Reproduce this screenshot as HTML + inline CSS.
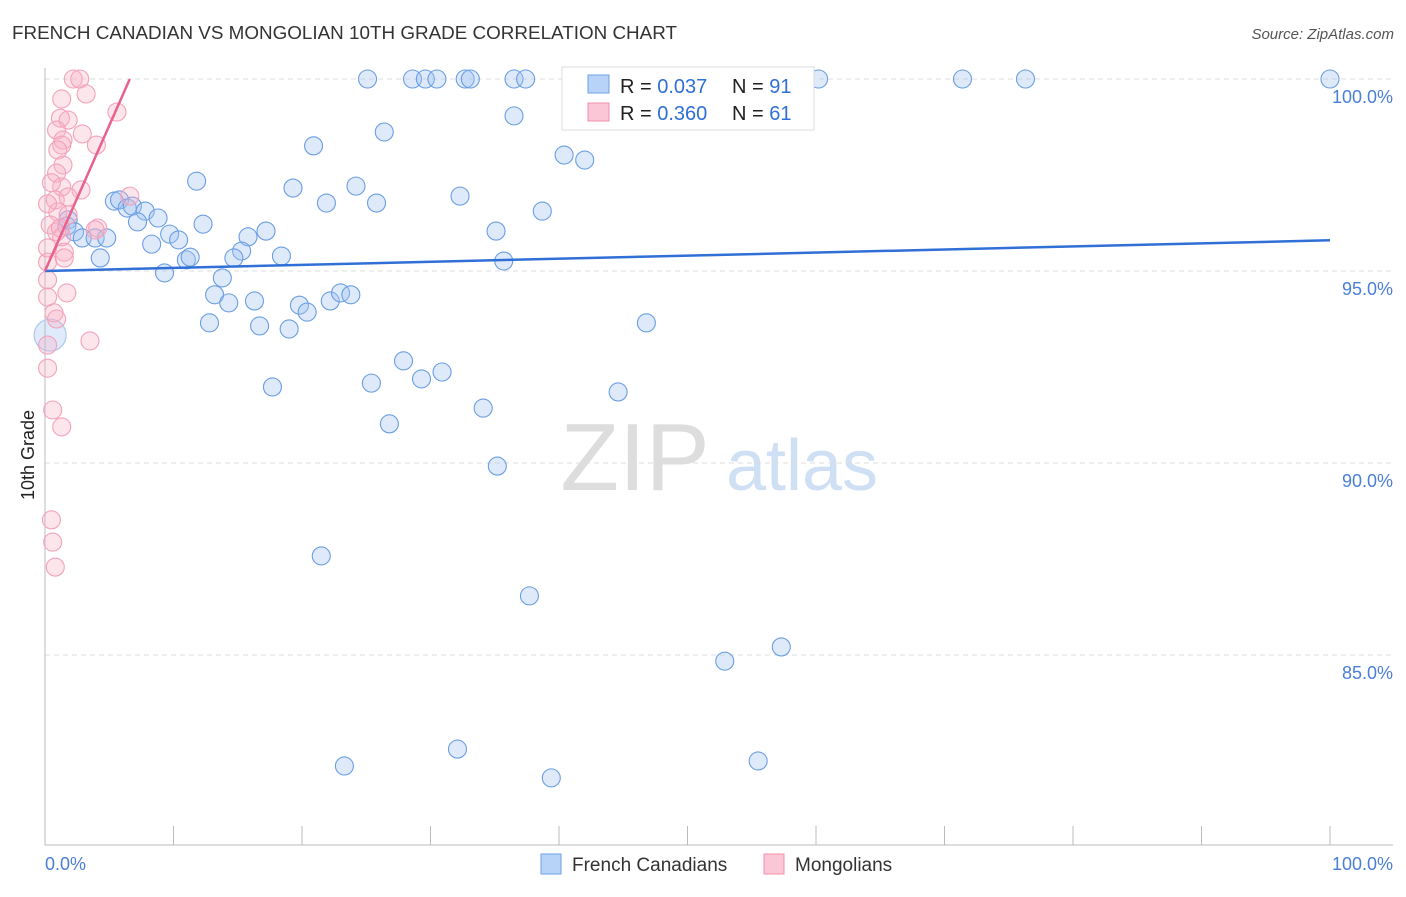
<!DOCTYPE html>
<html><head><meta charset="utf-8"><style>
body{margin:0;background:#fff;font-family:"Liberation Sans",sans-serif}
svg text{font-family:"Liberation Sans",sans-serif}
</style></head><body>
<svg width="1406" height="892" viewBox="0 0 1406 892" xmlns="http://www.w3.org/2000/svg">
<text x="12" y="39" font-size="18" fill="#333" textLength="665" lengthAdjust="spacingAndGlyphs">FRENCH CANADIAN VS MONGOLIAN 10TH GRADE CORRELATION CHART</text>
<text x="1394" y="39" font-size="15" fill="#555" text-anchor="end" font-style="italic">Source: ZipAtlas.com</text>
<g>
<text x="635" y="490" font-size="96" fill="#ddd" font-family="Liberation Serif" text-anchor="middle">ZIP</text>
<text x="802" y="490" font-size="72" fill="#cfe0f5" text-anchor="middle">atlas</text>
</g>
<g id="grid"></g>
<g id="axes"></g>
<g id="marks"></g>
<text transform="translate(34,455) rotate(-90)" font-size="18" fill="#222" text-anchor="middle">10th Grade</text>
<text x="45" y="870" font-size="18" fill="#4a7fd6">0.0%</text>
<text x="1393" y="870" font-size="18" fill="#4a7fd6" text-anchor="end">100.0%</text>
<g>
<rect x="562" y="67" width="252" height="63" fill="#fff" stroke="#ddd"/>
<rect x="588" y="75" width="21" height="18" fill="#b7d3f7" stroke="#6fa0e3"/>
<rect x="588" y="103" width="21" height="18" fill="#fbc6d5" stroke="#f090ad"/>
<text x="620" y="93" font-size="20" fill="#222">R = <tspan fill="#2f6fd6">0.037</tspan></text>
<text x="732" y="93" font-size="20" fill="#222">N = <tspan fill="#2f6fd6">91</tspan></text>
<text x="620" y="120" font-size="20" fill="#222">R = <tspan fill="#2f6fd6">0.360</tspan></text>
<text x="732" y="120" font-size="20" fill="#222">N = <tspan fill="#2f6fd6">61</tspan></text>
</g>
<g>
<rect x="541" y="854" width="20" height="20" fill="#b7d3f7" stroke="#6fa0e3"/>
<text x="572" y="871" font-size="19" fill="#333">French Canadians</text>
<rect x="764" y="854" width="20" height="20" fill="#fbc6d5" stroke="#f090ad"/>
<text x="795" y="871" font-size="19" fill="#333">Mongolians</text>
</g>
</svg>
<script>
const yTicks=[100,95,90,85];
const yTickLabels=["100.0%","95.0%","90.0%","85.0%"];
const blueX=[25.1,28.6,29.6,30.5,32.7,33.1,36.5,37.4,44.6,47.9,58.2,60.2,71.4,76.3,100,36.5,26.4,20.9,40.4,42.0,11.8,19.3,24.2,32.3,21.9,25.8,38.7,5.4,5.8,6.4,6.8,7.8,8.8,7.2,12.3,1.8,1.7,2.3,2.9,3.9,4.8,9.7,10.4,8.3,15.8,17.2,35.1,15.3,14.7,11.0,11.3,4.3,18.4,35.7,9.3,13.8,13.2,14.3,16.3,19.8,20.4,22.2,23.0,23.8,12.8,16.7,19.0,46.8,27.9,30.9,29.3,25.4,17.7,44.6,34.1,26.8,35.2,21.5,37.7,52.9,57.3,32.1,23.3,39.4,55.5,0.4];
const blueY=[100,100,100,100,100,100,100,100,100,100,100,100,100,100,100,99.04,98.62,98.26,98.02,97.89,97.34,97.16,97.21,96.95,96.77,96.77,96.56,96.82,96.85,96.64,96.69,96.56,96.38,96.28,96.22,96.33,96.17,96.02,95.86,95.86,95.86,95.96,95.81,95.70,95.89,96.04,96.04,95.52,95.34,95.29,95.36,95.34,95.39,95.26,94.95,94.82,94.38,94.17,94.22,94.11,93.93,94.22,94.43,94.38,93.65,93.57,93.49,93.65,92.66,92.37,92.19,92.08,91.98,91.85,91.43,91.02,89.92,87.58,86.54,84.84,85.21,82.55,82.11,81.80,82.24,93.33];
const pinkX=[2.2,2.7,3.2,1.3,5.6,1.2,1.8,0.9,2.9,1.4,4.0,1.3,1.0,1.4,0.9,1.3,2.8,0.8,6.6,1.0,1.8,0.4,0.9,1.3,4.1,1.5,0.2,0.2,0.2,1.7,0.7,0.9,3.5,0.2,0.2,0.6,1.3,0.5,0.6,0.8,1.8,1.2,0.2,3.9,1.5,0.2,0.5];
const pinkY=[100,100,99.61,99.48,99.14,98.98,98.93,98.67,98.57,98.41,98.28,98.28,98.15,97.76,97.55,97.19,97.11,96.85,96.95,96.54,96.46,96.20,96.02,95.89,96.12,95.49,95.23,94.77,94.32,94.43,93.91,93.75,93.18,93.07,92.47,91.38,90.94,88.52,87.94,87.29,96.93,96.12,95.60,96.07,95.34,96.75,97.3];
const blueTrend=[[0,95.0],[100,95.8]];
const pinkTrend=[[0,95.0],[6.6,100]];
const NS="http://www.w3.org/2000/svg";
const xs=v=>45+v*12.85;
const ys=v=>79+(100-v)*38.4;
function mk(tag,parent,attrs){const e=document.createElementNS(NS,tag);for(const k in attrs)e.setAttribute(k,attrs[k]);document.getElementById(parent).appendChild(e);return e;}
yTicks.forEach((t,i)=>{
  const l=mk('line','grid',{x1:45,x2:1393,y1:ys(t),y2:ys(t),stroke:'#ddd','stroke-dasharray':'5,4'});
  
  
  const tx=mk('text','grid',{x:1393,y:ys(t)+24,'font-size':18,fill:'#4a7fd6','text-anchor':'end'});
  tx.textContent=yTickLabels[i];
  
  
});
let a=mk('line','axes',{x1:45,x2:45,y1:68,y2:845,stroke:'#bbb'});


a=mk('line','axes',{x1:45,x2:1393,y1:845,y2:845,stroke:'#bbb'});


for(let k=0;k<=10;k++){const t=mk('line','axes',{x1:xs(k*10),x2:xs(k*10),y1:826,y2:845,stroke:'#bbb'});
  
  }
blueX.forEach((x,i)=>{const big=i===blueX.length-1;
  const c=mk('circle','marks',{cx:xs(x),cy:ys(blueY[i]),r:big?16:9,fill:big?'rgba(150,190,240,0.3)':'rgba(160,196,240,0.35)',stroke:big?'#a9c6ee':'#6a9ee3','stroke-width':1.1});
  
  });
pinkX.forEach((x,i)=>{
  const c=mk('circle','marks',{cx:xs(x),cy:ys(pinkY[i]),r:9,fill:'rgba(248,175,198,0.33)',stroke:'#f2a2ba','stroke-width':1.1});
  
  });
let tl=mk('line','marks',{x1:xs(blueTrend[0][0]),y1:ys(blueTrend[0][1]),x2:xs(blueTrend[1][0]),y2:ys(blueTrend[1][1]),stroke:'#2f6fd6','stroke-width':2.5});


tl=mk('line','marks',{x1:xs(pinkTrend[0][0]),y1:ys(pinkTrend[0][1]),x2:xs(pinkTrend[1][0]),y2:ys(pinkTrend[1][1]),stroke:'#e8628f','stroke-width':2.5});


</script>
</body></html>
